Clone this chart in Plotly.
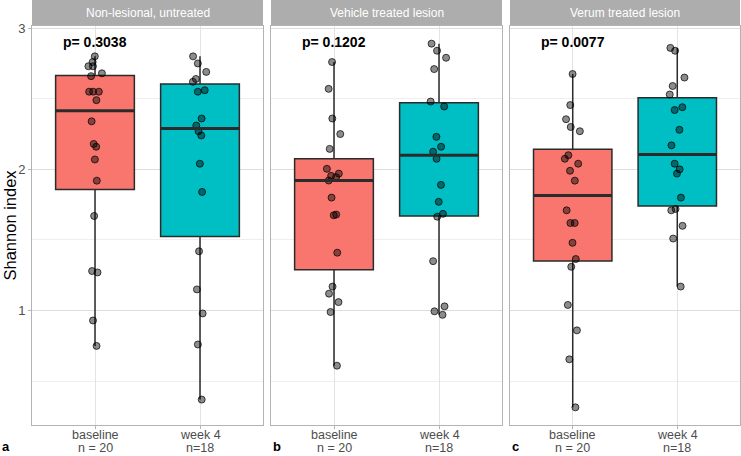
import numpy as np
import plotly.graph_objects as go

# ---------------- data ----------------
panel_titles = ["Non-lesional, untreated", "Vehicle treated lesion", "Verum treated lesion"]
p_values = ["p= 0.3038", "p= 0.1202", "p= 0.0077"]
panel_letters = ["a", "b", "c"]
group_names = ["baseline", "week 4"]
group_counts = ["n = 20", "n=18"]
y_ticks = [1, 2, 3]
y_minor_ticks = [0.5, 1.5, 2.5]
y_title = "Shannon index"

a_baseline = [2.80, 2.76, 2.73, 2.73, 2.68, 2.66, 2.55, 2.55, 2.55, 2.49, 2.34, 2.18,
              2.16, 2.07, 1.92, 1.67, 1.28, 1.27, 0.93, 0.75]
a_week4 = [2.80, 2.75, 2.69, 2.64, 2.62, 2.56, 2.55, 2.36, 2.31, 2.27, 2.24, 2.04,
           1.84, 1.42, 1.15, 0.98, 0.76, 0.37]
b_baseline = [2.76, 2.57, 2.36, 2.25, 2.145, 2.004, 1.97, 1.954, 1.945, 1.921, 1.80,
              1.68, 1.675, 1.41, 1.17, 1.12, 1.06, 0.99, 0.61]
b_week4 = [2.89, 2.84, 2.79, 2.71, 2.48, 2.445, 2.23, 2.16, 2.125, 2.075, 1.89, 1.77,
           1.685, 1.665, 1.35, 1.03, 0.995, 0.97]
c_baseline = [2.675, 2.455, 2.355, 2.30, 2.27, 2.10, 2.075, 2.04, 1.99, 1.92, 1.71,
              1.62, 1.62, 1.48, 1.365, 1.31, 1.04, 0.86, 0.655, 0.315]
c_week4 = [2.86, 2.84, 2.65, 2.59, 2.53, 2.44, 2.42, 2.28, 2.17, 2.04, 2.00, 1.97,
           1.80, 1.72, 1.71, 1.60, 1.51, 1.17]

panel_data = [[a_baseline, a_week4], [b_baseline, b_week4], [c_baseline, c_week4]]

# ---------------- style ----------------
W, H = 741, 456
FILLS = ["#F8766D", "#00BFC4"]
BOX_W = 0.75
LINE_C = "#2B2B2B"
BORDER_C = "#B3B3B3"
STRIP_C = "#ADADAD"
TICK_C = "#4D4D4D"
FONT = "Liberation Sans, Arial, Helvetica, sans-serif"
panel_px = [(32, 263), (271, 502), (510, 740)]
panel_top_px, panel_bot_px, strip_h = 26, 425, 25
label_rows_px = [435, 448]
y_dom = [(H - panel_bot_px) / H, (H - panel_top_px) / H]
y_range = [0.19, 3.015]


def box_stats(v):
    v = np.sort(np.asarray(v, dtype=float))
    q1, med, q3 = np.percentile(v, [25, 50, 75])
    iqr = q3 - q1
    lo = v[v >= q1 - 1.5 * iqr].min()
    hi = v[v <= q3 + 1.5 * iqr].max()
    return q1, med, q3, lo, hi


fig = go.Figure()
annotations = []
shapes = []

for i, groups in enumerate(panel_data):
    n = i + 1
    xa = "x" if n == 1 else f"x{n}"
    ya = "y" if n == 1 else f"y{n}"
    for g, vals in enumerate(groups):
        q1, med, q3, lo, hi = box_stats(vals)
        fig.add_trace(go.Box(
            x=[g], q1=[q1], median=[med], q3=[q3], lowerfence=[lo], upperfence=[hi],
            orientation="v", width=BOX_W, fillcolor=FILLS[g],
            line=dict(color=LINE_C, width=1.5), whiskerwidth=0, boxpoints=False,
            xaxis=xa, yaxis=ya, showlegend=False, hoverinfo="skip"))
        fig.add_trace(go.Scatter(
            x=[g - BOX_W / 2, g + BOX_W / 2], y=[med, med], mode="lines",
            line=dict(color=LINE_C, width=3), xaxis=xa, yaxis=ya,
            showlegend=False, hoverinfo="skip"))
        fig.add_trace(go.Box(
            x0=g, y=vals, width=BOX_W, boxpoints="all", jitter=0.22, pointpos=0,
            fillcolor="rgba(0,0,0,0)", line=dict(color="rgba(0,0,0,0)", width=0),
            marker=dict(size=7, color="rgba(0,0,0,0.45)",
                        line=dict(color="rgba(0,0,0,0.7)", width=1)),
            xaxis=xa, yaxis=ya, showlegend=False, hoverinfo="skip"))
        # category labels (two rows)
        for row, txt in enumerate([group_names[g], group_counts[g]]):
            annotations.append(dict(xref=xa, yref="paper", x=g,
                                    y=(H - label_rows_px[row]) / H, text=txt,
                                    showarrow=False, xanchor="center", yanchor="middle",
                                    font=dict(size=12.5, color=TICK_C, family=FONT)))

    x0p, x1p = panel_px[i]
    dom = [x0p / W, x1p / W]
    xkey = "xaxis" if n == 1 else f"xaxis{n}"
    ykey = "yaxis" if n == 1 else f"yaxis{n}"
    fig.update_layout(**{
        xkey: dict(domain=dom, range=[-0.6, 1.6], tickvals=[0, 1], showticklabels=False,
                   showgrid=True, gridcolor="#E3E3E3", gridwidth=1, zeroline=False,
                   showline=True, mirror=True, linecolor=BORDER_C, linewidth=1,
                   ticks="outside", ticklen=3, tickcolor=BORDER_C,
                   anchor=ya, fixedrange=True, automargin=False),
        ykey: dict(domain=y_dom, range=y_range, tickvals=y_ticks,
                   showticklabels=(n == 1), showgrid=True, gridcolor="#DEDEDE", gridwidth=1,
                   minor=dict(tickvals=y_minor_ticks, showgrid=True, gridcolor="#EEEEEE",
                              gridwidth=1, ticks=""),
                   zeroline=False, showline=True, mirror=True, linecolor=BORDER_C, linewidth=1,
                   ticks="outside" if n == 1 else "", ticklen=3, tickcolor=BORDER_C,
                   tickfont=dict(size=13, color=TICK_C, family=FONT),
                   anchor=xa, fixedrange=True, automargin=False),
    })
    # strip
    shapes.append(dict(type="rect", xref="paper", yref="paper",
                       x0=dom[0], x1=dom[1], y0=(H - strip_h) / H, y1=1,
                       fillcolor=STRIP_C, line=dict(width=0), layer="above"))
    annotations.append(dict(xref="paper", yref="paper", x=(dom[0] + dom[1]) / 2,
                            y=(H - strip_h / 2) / H, text=panel_titles[i], showarrow=False,
                            xanchor="center", yanchor="middle",
                            font=dict(size=12, color="white", family=FONT)))
    # p-value
    annotations.append(dict(xref=xa, yref=ya, x=0, y=2.90, text=f"<b>{p_values[i]}</b>",
                            showarrow=False, xanchor="center", yanchor="middle",
                            font=dict(size=14, color="black", family=FONT)))
    # panel letter
    annotations.append(dict(xref="paper", yref="paper", x=(0 if n == 1 else dom[0]), y=0,
                            text=f"<b>{panel_letters[i]}</b>", showarrow=False,
                            xanchor="left", yanchor="bottom",
                            font=dict(size=13, color="black", family=FONT)))

annotations.append(dict(xref="paper", yref="paper", x=10 / W, y=sum(y_dom) / 2,
                        text=y_title, textangle=-90, showarrow=False,
                        xanchor="center", yanchor="middle",
                        font=dict(size=16.5, color="black", family=FONT)))

fig.update_layout(width=W, height=H, margin=dict(l=0, r=0, t=0, b=0, autoexpand=False),
                  plot_bgcolor="white", paper_bgcolor="white", boxmode="overlay",
                  showlegend=False, annotations=annotations, shapes=shapes,
                  font=dict(family=FONT))

fig.write_html("out.html")
